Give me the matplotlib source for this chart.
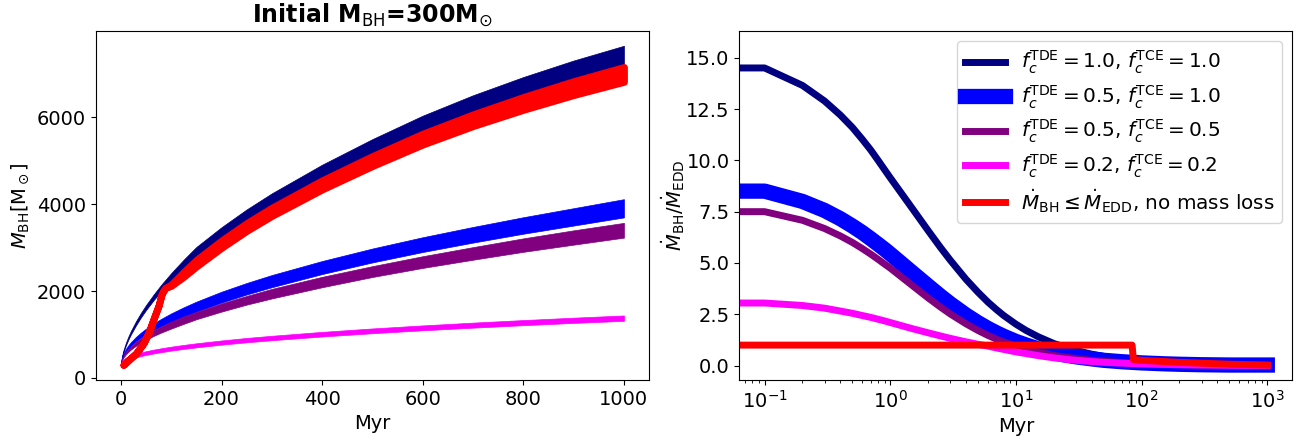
import numpy as np
import matplotlib
matplotlib.use("Agg")
import matplotlib.pyplot as plt

# ---- left panel: black hole mass growth (band = spread over runs) ----
t_mass = [0, 2, 5, 10, 15, 20, 30, 40, 50, 65, 80, 100, 125, 150, 200, 250,
          300, 400, 500, 600, 700, 800, 900, 1000]

navy_hi = [300, 489, 633, 810, 956, 1083, 1305, 1501, 1678, 1919, 2142, 2413,
           2725, 3015, 3470, 3880, 4250, 4910, 5500, 6040, 6510, 6930, 7310, 7650]
navy_lo = [300, 459, 588, 750, 886, 1003, 1210, 1396, 1563, 1789, 1997, 2253,
           2545, 2815, 3240, 3620, 3970, 4590, 5150, 5660, 6110, 6510, 6870, 7200]

blue_hi = [300, 463, 559, 669, 753, 824, 943, 1044, 1133, 1252, 1358, 1485,
           1626, 1755, 1984, 2185, 2368, 2691, 2979, 3239, 3476, 3700, 3908, 4116]
blue_lo = [300, 433, 514, 609, 678, 739, 843, 929, 1003, 1102, 1188, 1295,
           1416, 1525, 1734, 1920, 2088, 2391, 2659, 2899, 3116, 3320, 3508, 3696]

purple_hi = [300, 427, 507, 598, 670, 725, 829, 913, 989, 1091, 1183, 1295,
             1415, 1520, 1716, 1887, 2049, 2327, 2573, 2802, 3011, 3213, 3398, 3570]
purple_lo = [300, 403, 467, 542, 600, 655, 739, 813, 879, 965, 1043, 1135,
             1245, 1350, 1526, 1687, 1829, 2087, 2323, 2532, 2721, 2903, 3068, 3230]

magenta_hi = [305, 391, 429, 467, 495, 518, 556, 586, 614, 650, 681, 718,
              759, 796, 861, 919, 969, 1059, 1138, 1208, 1272, 1331, 1386, 1437]
magenta_lo = [295, 331, 359, 391, 415, 438, 472, 502, 528, 562, 591, 628,
              667, 702, 765, 819, 867, 953, 1028, 1096, 1156, 1213, 1266, 1313]

# Eddington-limited run, no mass loss
t_red = [5, 15, 30, 45, 55, 65, 75, 81, 88, 100, 125, 150, 200, 250, 300,
         400, 500, 600, 700, 800, 900, 1000]
red_hi = [300, 407, 565, 800, 1040, 1360, 1670, 1930, 2070, 2150, 2440, 2715,
          3165, 3565, 3920, 4550, 5110, 5625, 6070, 6470, 6835, 7160]
red_lo = [300, 407, 565, 800, 1040, 1360, 1670, 1930, 2070, 2120, 2330, 2565,
          2995, 3385, 3730, 4340, 4880, 5375, 5800, 6175, 6515, 6820]

# ---- right panel: accretion rate in Eddington units ----
t_rate = [0.001, 0.1, 0.2, 0.3, 0.4, 0.5, 0.6, 0.7, 0.8, 0.9, 1, 1.5, 2, 2.5,
          3, 4, 5, 6, 7, 8, 10, 12, 15, 20, 25, 30, 40, 50, 70, 100, 150, 200,
          300, 500, 700, 1000]
rate_navy = [14.5, 14.5, 13.65, 12.89, 12.21, 11.6, 11.02, 10.5, 10.0, 9.55,
             9.15, 7.65, 6.58, 5.77, 5.14, 4.21, 3.57, 3.09, 2.73, 2.44, 2.02,
             1.72, 1.41, 1.08, 0.88, 0.74, 0.56, 0.45, 0.32, 0.23, 0.15, 0.115,
             0.077, 0.046, 0.033, 0.023]
rate_blue = [8.5, 8.5, 8.0, 7.56, 7.16, 6.8, 6.48, 6.18, 5.91, 5.67, 5.44, 4.53,
             3.89, 3.4, 3.02, 2.47, 2.09, 1.81, 1.6, 1.43, 1.18, 1.01, 0.82,
             0.63, 0.51, 0.43, 0.33, 0.26, 0.19, 0.134, 0.09, 0.067, 0.045,
             0.03, 0.03, 0.03]
rate_purple = [7.5, 7.5, 7.08, 6.68, 6.32, 6.0, 5.7, 5.43, 5.18, 4.95, 4.75,
               3.9, 3.3, 2.86, 2.52, 2.04, 1.71, 1.47, 1.29, 1.15, 0.95, 0.81,
               0.66, 0.5, 0.41, 0.35, 0.26, 0.21, 0.15, 0.105, 0.07, 0.053,
               0.036, 0.022, 0.015, 0.01]
rate_magenta = [3.05, 3.05, 2.93, 2.8, 2.66, 2.55, 2.44, 2.35, 2.26, 2.18, 2.1,
                1.8, 1.6, 1.45, 1.33, 1.16, 1.04, 0.95, 0.86, 0.79, 0.67, 0.59,
                0.49, 0.38, 0.31, 0.26, 0.2, 0.16, 0.12, 0.085, 0.057, 0.043,
                0.029, 0.017, 0.012, 0.009]
t_rate_red = [0.001, 84, 86, 100, 150, 200, 300, 500, 700, 1000]
rate_red = [1.0, 1.0, 0.3, 0.26, 0.2, 0.16, 0.12, 0.07, 0.05, 0.03]

labels = [r"$f_c^{\rm TDE}=1.0$, $f_c^{\rm TCE}=1.0$",
          r"$f_c^{\rm TDE}=0.5$, $f_c^{\rm TCE}=1.0$",
          r"$f_c^{\rm TDE}=0.5$, $f_c^{\rm TCE}=0.5$",
          r"$f_c^{\rm TDE}=0.2$, $f_c^{\rm TCE}=0.2$",
          r"$\dot{M}_{\rm BH}\leq\dot{M}_{\rm EDD}$, no mass loss"]

plt.rcParams["font.size"] = 14

fig = plt.figure(figsize=(13.01, 4.41), dpi=100)
ax1 = fig.add_axes([0.0736, 0.1383, 0.4253, 0.7914])
ax2 = fig.add_axes([0.5683, 0.1383, 0.4251, 0.7914])

ax1.fill_between(t_mass, navy_lo, navy_hi, color="navy", lw=0.5)
ax1.fill_between(t_mass, blue_lo, blue_hi, color="blue", lw=0.5)
ax1.fill_between(t_mass, purple_lo, purple_hi, color="purple", lw=0.5)
ax1.fill_between(t_mass, magenta_lo, magenta_hi, color="magenta", lw=0.5)
ax1.fill_between(t_red, red_lo, red_hi, facecolor="red", edgecolor="red", lw=5)
ax1.set_xlim(-50, 1050)
ax1.set_ylim(-50, 7990)
ax1.set_xlabel("Myr", fontsize=14)
ax1.set_ylabel(r"$M_{\rm BH}[{\rm M_\odot}]$", fontsize=14)
ax1.set_title(r"Initial M$_{\rm BH}$=300M$_{\odot}$", fontsize=17, fontweight="bold")
ax1.tick_params(labelsize=14)

ax2.plot(t_rate, rate_navy, color="navy", lw=5, label=labels[0])
ax2.plot(t_rate, rate_blue, color="blue", lw=11, label=labels[1])
ax2.plot(t_rate, rate_purple, color="purple", lw=5, label=labels[2])
ax2.plot(t_rate, rate_magenta, color="magenta", lw=5, label=labels[3])
ax2.plot(t_rate_red, rate_red, color="red", lw=5, label=labels[4])
ax2.set_xscale("log")
ax2.set_xlim(0.063, 1585)
ax2.set_ylim(-0.7, 16.3)
ax2.set_xlabel("Myr", fontsize=14)
ax2.set_ylabel(r"$\dot{M}_{\rm BH}/\dot{M}_{\rm EDD}$", fontsize=14)
ax2.yaxis.set_label_coords(-0.095, 0.5)
ax2.tick_params(labelsize=14)
ax2.legend(loc="upper right", fontsize=14.4, labelspacing=0.35)

fig.savefig("out.png", dpi=100)
